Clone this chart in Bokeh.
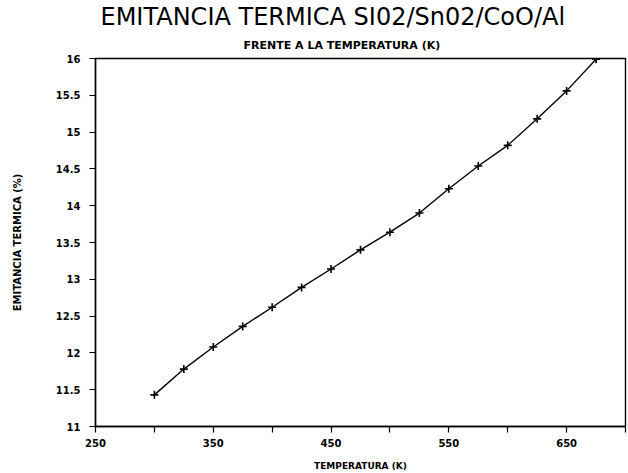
from bokeh.plotting import figure
from bokeh.models import FixedTicker, Range1d, Title
from bokeh.embed import file_html
from bokeh.resources import INLINE

temperatures = [300, 325, 350, 375, 400, 425, 450, 475, 500, 525, 550, 575, 600, 625, 650, 675]
emittance = [11.43, 11.78, 12.08, 12.36, 12.62, 12.89, 13.14, 13.40, 13.64, 13.90,
             14.23, 14.54, 14.82, 15.18, 15.56, 15.99]

x_major = [250, 350, 450, 550, 650]
x_minor = [300, 400, 500, 600, 700]
y_ticks = [11, 11.5, 12, 12.5, 13, 13.5, 14, 14.5, 15, 15.5, 16]
y_labels = ["11", "11.5", "12", "12.5", "13", "13.5", "14", "14.5", "15", "15.5", "16"]

p = figure(width=628, height=473, output_backend="svg", toolbar_location=None,
           x_range=Range1d(250, 700), y_range=Range1d(11, 16),
           min_border_left=95, min_border_right=3, min_border_top=58, min_border_bottom=47)

p.line(temperatures, emittance, line_color="black", line_width=1.4)
p.scatter(temperatures, emittance, marker="cross", size=8, line_color="black", line_width=1.6)

p.xgrid.visible = False
p.ygrid.visible = False
p.outline_line_color = "black"
p.outline_line_width = 1.4

p.xaxis.ticker = FixedTicker(ticks=x_major, minor_ticks=x_minor)
p.yaxis.ticker = FixedTicker(ticks=y_ticks, minor_ticks=[])
p.yaxis.major_label_overrides = {float(t): l for t, l in zip(y_ticks, y_labels)}

for ax in (p.xaxis, p.yaxis):
    ax.axis_line_color = "black"
    ax.axis_line_width = 1.4
    ax.major_tick_line_color = "black"
    ax.minor_tick_line_color = "black"
    ax.major_tick_line_width = 1.2
    ax.minor_tick_line_width = 1.2
    ax.major_tick_in = 0
    ax.major_tick_out = 6
    ax.minor_tick_in = 0
    ax.minor_tick_out = 6
    ax.major_label_text_font = "DejaVu Sans"
    ax.major_label_text_font_size = "10px"
    ax.major_label_text_font_style = "bold"
    ax.major_label_text_color = "black"
    ax.axis_label_text_font = "DejaVu Sans"
    ax.axis_label_text_font_style = "bold"
    ax.axis_label_text_color = "black"

p.xaxis.axis_label = "TEMPERATURA (K)"
p.yaxis.axis_label = "EMITANCIA TERMICA (%)"
p.xaxis.axis_label_text_font_size = "9px"
p.yaxis.axis_label_text_font_size = "10px"
p.xaxis.major_label_standoff = 6
p.yaxis.major_label_standoff = 9
p.xaxis.axis_label_standoff = 11
p.yaxis.axis_label_standoff = 30

p.add_layout(Title(text="FRENTE A LA TEMPERATURA (K)", align="left", offset=148,
                   text_font="DejaVu Sans", text_font_size="11px", text_font_style="bold",
                   text_color="black", standoff=13), "above")
p.add_layout(Title(text="EMITANCIA TERMICA SI02/Sn02/CoO/Al", align="left", offset=5,
                   text_font="DejaVu Sans", text_font_size="24px", text_font_style="normal",
                   text_color="black", standoff=0), "above")

open("out.html", "w").write(file_html(p, INLINE))
